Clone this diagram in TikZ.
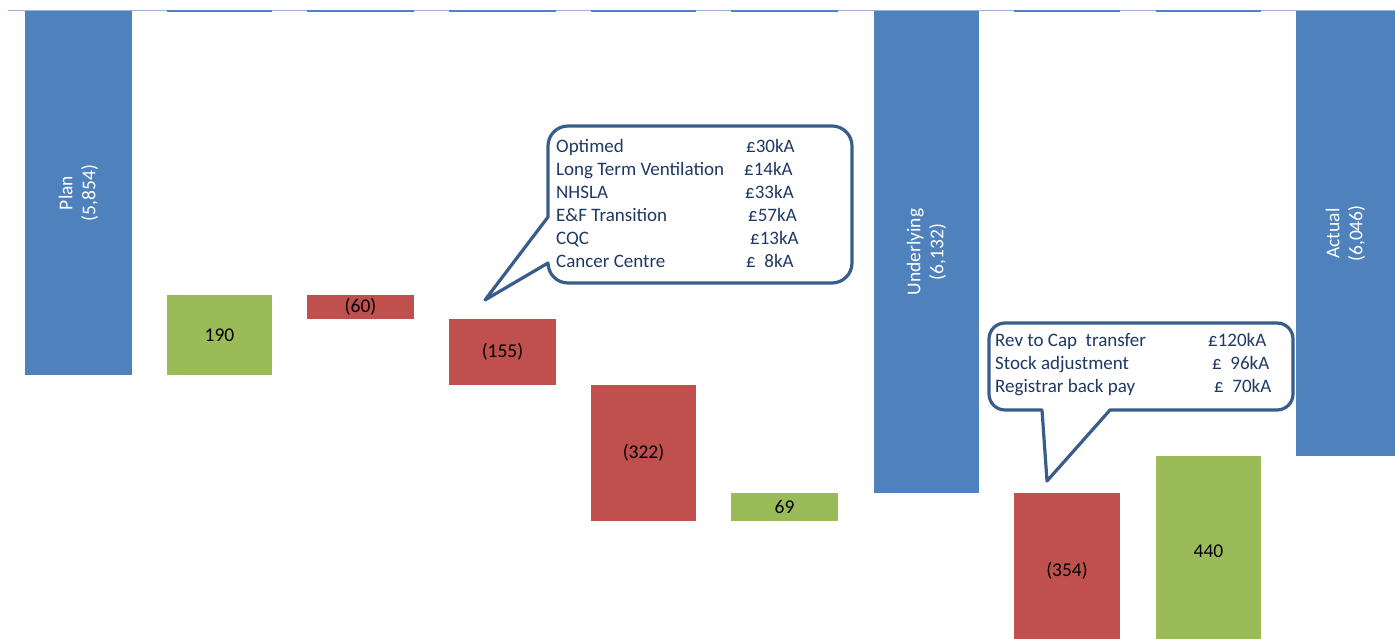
\documentclass[tikz,border=0pt]{standalone}
\usepackage{fontspec}
\setmainfont{Carlito}
\usetikzlibrary{calc}
\definecolor{totalblue}{HTML}{4F81BD}
\definecolor{gaingreen}{HTML}{9BBB59}
\definecolor{lossred}{HTML}{C0504D}
\definecolor{noteline}{HTML}{385D8A}
\definecolor{notefont}{HTML}{1F3864}
\definecolor{axisblue}{HTML}{95B3D7}
\tikzset{
	every node/.style={
		font=\fontsize{19.5}{23}\selectfont
	},
	bar/.style={
		shape=rectangle,
		inner sep=0pt,
		outer sep=0pt,
		anchor=north west
	},
	barvalue/.style={
		text=black
	},
	total/.style={
		text=white,
		rotate=90,
		align=center
	},
	note/.style={
		draw=noteline,
		line width=3.2pt,
		fill=white,
		line join=round
	},
	notetext/.style={
		anchor=north west,
		inner sep=0pt,
		text=notefont,
		font=\fontsize{19}{23}\selectfont
	},
	base/.style={totalblue, line width=2.5pt}
}
\begin{document}
\begin{tikzpicture}[x=1pt,y=1pt]
	
	\useasboundingbox (0,0) rectangle (1395,639);
	\clip (0,0) rectangle (1395,639);
	
	\coordinate (axis) at (0,628);
	\draw[axisblue, line width=1pt] (8,628) -- (1395,628);
	
	% x left, x right, top, bottom
	\def\bars{{%
			{25,132,628,264},
			{167,272,344,264},
			{307,414,344,320},
			{449,556,320,254},
			{591,696,254,118},
			{731,838,146,118},
			{874,979,628,146},
			{1014,1120,146,-10},
			{1156,1261,183,-7},
			{1296,1395,628,183},
		}}
	\def\barcolour{{"totalblue","gaingreen","lossred","lossred","lossred",
			"gaingreen","totalblue","lossred","gaingreen","totalblue"}}
	
	\foreach \i in {0,...,9} {
		\pgfmathparse{\bars[\i][0]}\let \xa \pgfmathresult;
		\pgfmathparse{\bars[\i][1]}\let \xb \pgfmathresult;
		\pgfmathparse{\bars[\i][2]}\let \ya \pgfmathresult;
		\pgfmathparse{\bars[\i][3]}\let \yb \pgfmathresult;
		\pgfmathparse{\barcolour[\i]}\let \c \pgfmathresult;
		\pgfmathsetmacro{\w}{\xb-\xa}
		\pgfmathsetmacro{\h}{\ya-\yb}
		\node[bar, fill=\c, minimum width=\w pt, minimum height=\h pt] (bar\i) at (\xa,\ya) {};
	}
	
	\foreach \i in {1,...,5,7,8} {
		\draw[base] (bar\i.west |- axis) -- (bar\i.east |- axis);
	}
	
	% totals
	\node[total] (vplan) at (bar0) {Plan\\(5,854)};
	\node[total] (vunder) at (bar6) {Underlying\\(6,132)};
	\node[total] (vactual) at (bar9) {Actual\\(6,046)};
	
	% movements
	\node[barvalue] (v190) at (bar1) {190};
	\node[barvalue] (v60) at (bar2) {(60)};
	\node[barvalue] (v155) at (bar3) {(155)};
	\node[barvalue] (v322) at (bar4) {(322)};
	\node[barvalue] (v69) at (bar5) {69};
	\node[barvalue] (v354) at (bar7) {(354)};
	\node[barvalue] (v440) at (bar8) {440};
	
	% callouts
	\coordinate (tip1) at (485,339);
	\draw[note] (tip1) -- (548,422) -- (548,493) arc[start angle=180, end angle=90, radius=20pt]
		-- (832,513) arc[start angle=90, end angle=0, radius=20pt]
		-- (852,376) arc[start angle=0, end angle=-90, radius=20pt]
		-- (568,356) arc[start angle=270, end angle=180, radius=20pt] -- cycle;
	\node[notetext] (note1) at (556,503) {%
		\begin{tabular}{@{}p{189pt}@{}l@{}}
			Optimed & \hspace{1pt}£30kA\\
			Long Term Ventilation & \hspace{-1pt}£14kA\\
			NHSLA & £33kA\\
			E\&F Transition & \hspace{3pt}£57kA\\
			CQC & \hspace{5pt}£13kA\\
			Cancer Centre & \hspace{1pt}£\ \ 8kA
	\end{tabular}};
	
	\coordinate (tip2) at (1047,158);
	\draw[note] (tip2) -- (1110,229) -- (1277,229) arc[start angle=270, end angle=360, radius=16pt]
		-- (1293,300) arc[start angle=0, end angle=90, radius=16pt]
		-- (1005,316) arc[start angle=90, end angle=180, radius=16pt]
		-- (989,245) arc[start angle=180, end angle=270, radius=16pt] -- (1042,229) -- cycle;
	\node[notetext] (note2) at (995,309) {%
		\begin{tabular}{@{}p{213pt}@{}l@{}}
			Rev to Cap\ \ transfer & £120kA\\
			Stock adjustment & \hspace{4pt}£\ \ 96kA\\
			Registrar back pay & \hspace{6pt}£\ \ 70kA
	\end{tabular}};
	
\end{tikzpicture}
\end{document}
